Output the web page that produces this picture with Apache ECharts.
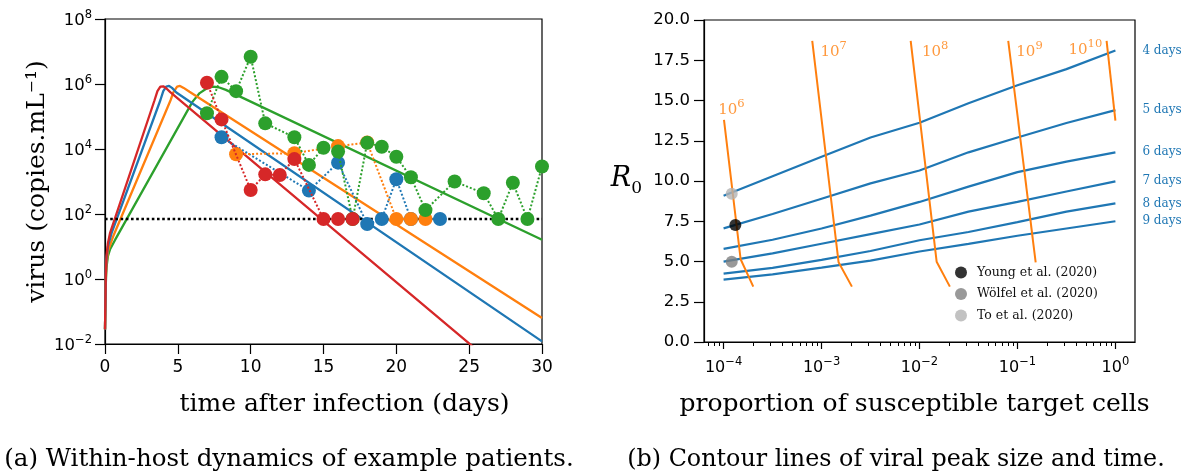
<!DOCTYPE html>
<html>
<head>
<meta charset="utf-8">
<script src="https://cdn.jsdelivr.net/npm/echarts@6/dist/echarts.min.js"></script>
<style>html,body{margin:0;padding:0;background:#fff}#c{width:1186px;height:475px}</style>
</head>
<body>
<div id="c"></div>
<script>
// ---------- Panel (a): within-host dynamics, values are log10(copies/mL) ----------
const xTicksA = [0, 5, 10, 15, 20, 25, 30];
const yTicksA = [-2, 0, 2, 4, 6, 8];
const detectionLimitLog10 = 1.845;

const fitBlue   = [[0,-1.55],[0.03,-0.6],[0.06,0.15],[0.1,0.6],[0.2,1.0],[0.45,1.41],[3.8,5.5],[4.0,5.78],[4.2,5.92],[4.4,5.94],[4.6,5.88],[4.9,5.74],[30,-1.92]];
const fitOrange = [[0,-1.55],[0.03,-0.65],[0.06,0.05],[0.1,0.45],[0.2,0.85],[0.55,1.3],[4.5,5.5],[4.7,5.75],[4.95,5.92],[5.15,5.94],[5.4,5.88],[5.8,5.76],[30,-1.2]];
const fitGreen  = [[0,-1.55],[0.03,-0.7],[0.06,-0.1],[0.1,0.35],[0.2,0.7],[0.35,0.92],[0.7,1.21],[6.0,5.45],[6.5,5.72],[7.0,5.87],[7.4,5.92],[7.8,5.9],[8.3,5.82],[30,1.21]];
const fitRed    = [[0,-1.55],[0.03,-0.6],[0.06,0.2],[0.1,0.7],[0.2,1.1],[0.35,1.42],[3.4,5.5],[3.6,5.78],[3.8,5.92],[4.0,5.93],[4.2,5.87],[4.5,5.74],[26,-2.36]];

const obsBlue   = [[8,4.36],[14,2.72],[16,3.58],[18,1.69],[19,1.845],[20,3.07],[21,1.845],[23,1.845]];
const obsOrange = [[9,3.84],[13,3.87],[16,4.09],[18,4.2],[20,1.845],[21,1.845],[22,1.845]];
const obsGreen  = [[7,5.1],[8,6.22],[9,5.78],[10,6.84],[11,4.79],[13,4.36],[14,3.51],[15,4.04],[16,3.92],[17,1.845],[18,4.19],[19,4.07],[20,3.76],[21,3.13],[22,2.12],[24,3.0],[26,2.64],[27,1.845],[28,2.96],[29,1.845],[30,3.46]];
const obsRed    = [[7,6.04],[8,4.91],[10,2.74],[11,3.22],[12,3.2],[13,3.69],[15,1.845],[16,1.845],[17,1.845]];

// ---------- Panel (b): contour lines, x = log10(proportion of target cells), y = R0 ----------
const xTicksB = [-4, -3, -2, -1, 0];
const yTicksB = [0, 2.5, 5, 7.5, 10, 12.5, 15, 17.5, 20];
const propLog10 = [-4, -3.5, -3, -2.5, -2, -1.5, -1, -0.5, 0];
const peakTimeNames = ['4 days', '5 days', '6 days', '7 days', '8 days', '9 days'];
const peakTime4 = [9.09, 10.3, 11.5, 12.7, 13.62, 14.83, 15.95, 16.95, 18.1];
const peakTime5 = [7.06, 7.95, 8.9, 9.85, 10.65, 11.78, 12.7, 13.6, 14.4];
const peakTime6 = [5.78, 6.35, 7.05, 7.85, 8.7, 9.65, 10.55, 11.2, 11.78];
const peakTime7 = [4.99, 5.5, 6.1, 6.7, 7.3, 8.1, 8.7, 9.35, 9.98];
const peakTime8 = [4.25, 4.6, 5.1, 5.65, 6.32, 6.83, 7.45, 8.1, 8.61];
const peakTime9 = [3.88, 4.2, 4.62, 5.05, 5.62, 6.1, 6.6, 7.05, 7.5];

const peakSize1e6  = [[-3.996,13.79],[-3.826,5.14],[-3.697,3.44]];
const peakSize1e7  = [[-3.095,18.7],[-2.826,4.95],[-2.69,3.44]];
const peakSize1e8  = [[-2.09,18.7],[-1.825,4.99],[-1.69,3.44]];
const peakSize1e9  = [[-1.094,18.7],[-0.814,4.95]];
const peakSize1e10 = [[-0.09,18.7],[0,13.75]];
const peakSizeLabels = [[-3.92,14.56,'6'],[-2.877,18.16,'7'],[-1.84,18.16,'8'],[-0.877,18.16,'9'],[-0.307,18.27,'10']];

const studyNames = ['Young et al. (2020)', 'Wölfel et al. (2020)', 'To et al. (2020)'];
const studyPoints = [[-3.88, 7.27], [-3.917, 4.98], [-3.917, 9.21]];
const studyColors = ['#000000', '#7f7f7f', '#b3b3b3'];

// minor tick positions on the log axis (2..9 x 10^n)
const xMinorB = [];
for (let n = -5; n <= 0; n++) for (let k = 2; k <= 9; k++) {
  const v = Math.log10(k) + n;
  if (v >= -4.2 && v <= 0.2) xMinorB.push(v);
}

const SANS = 'DejaVu Sans', SERIF = 'DejaVu Serif';
const C = {blue:'#1f77b4', orange:'#ff7f0e', green:'#2ca02c', red:'#d62728'};
const supText = v => String(v).replace('-', '\u2212');
const powLabel = v => '{b|10}{s|' + supText(Math.round(v)) + '}';
const tickRich = size => ({
  b: {fontFamily: SANS, fontSize: size, lineHeight: 20, verticalAlign: 'bottom', color: '#000'},
  s: {fontFamily: SANS, fontSize: 11.5, lineHeight: 12, verticalAlign: 'top', color: '#000'}
});
const axLine = {onZero: false, lineStyle: {color: '#000', width: 1.2}};

const fitSeries = (data, color) => ({
  type: 'line', xAxisIndex: 0, yAxisIndex: 0, data, showSymbol: false, symbol: 'none',
  lineStyle: {color, width: 2.3}, itemStyle: {color}, z: 2, silent: true
});
const obsSeries = (data, color, z) => ({
  type: 'line', xAxisIndex: 0, yAxisIndex: 0, data, symbol: 'circle', symbolSize: 14, showSymbol: true,
  lineStyle: {color, width: 2, type: 'dotted'}, itemStyle: {color}, z, silent: true
});
const r0Lines = [peakTime4, peakTime5, peakTime6, peakTime7, peakTime8, peakTime9];
const r0Series = r0Lines.map((vals, i) => ({
  type: 'line', xAxisIndex: 1, yAxisIndex: 1,
  data: propLog10.map((x, j) => [x, vals[j]]),
  showSymbol: false, symbol: 'none', lineStyle: {color: C.blue, width: 2.2}, itemStyle: {color: C.blue}, z: 2, silent: true,
  endLabel: {show: true, formatter: peakTimeNames[i], distance: 27, color: C.blue, fontFamily: SERIF, fontSize: 12}
}));
const sizeSeries = [peakSize1e6, peakSize1e7, peakSize1e8, peakSize1e9, peakSize1e10].map(d => ({
  type: 'line', xAxisIndex: 1, yAxisIndex: 1, data: d, showSymbol: false, symbol: 'none',
  lineStyle: {color: C.orange, width: 2}, itemStyle: {color: C.orange}, z: 3, silent: true
}));

const option = {
  animation: false,
  backgroundColor: '#fff',
  textStyle: {fontFamily: SANS},
  grid: [
    {left: 105, top: 19, width: 437, height: 325, show: true, borderColor: '#000', borderWidth: 1.2, backgroundColor: 'transparent'},
    {left: 704, top: 20, width: 431, height: 322, show: true, borderColor: '#000', borderWidth: 1.2, backgroundColor: 'transparent'}
  ],
  xAxis: [
    {gridIndex: 0, type: 'value', min: 0, max: 30, position: 'bottom',
     axisLine: axLine, axisTick: {customValues: xTicksA, length: 10, lineStyle: {color: '#000', width: 1.2}},
     axisLabel: {customValues: xTicksA, color: '#000', fontFamily: SANS, fontSize: 17, margin: 15},
     splitLine: {show: false},
     name: 'time after infection (days)', nameLocation: 'middle', nameGap: 48,
     nameTextStyle: {fontFamily: SERIF, fontSize: 25, color: '#000', padding: [0, 0, 0, 42]}},
    {gridIndex: 1, type: 'value', min: -4.2, max: 0.2, position: 'bottom',
     axisLine: axLine, axisTick: {customValues: xTicksB, length: 7, lineStyle: {color: '#000', width: 1.2}},
     axisLabel: {customValues: xTicksB, formatter: powLabel, rich: tickRich(16), margin: 14},
     splitLine: {show: false},
     name: 'proportion of susceptible target cells', nameLocation: 'middle', nameGap: 50,
     nameTextStyle: {fontFamily: SERIF, fontSize: 25, color: '#000', padding: [0, 10, 0, 0]}},
    {gridIndex: 1, type: 'value', min: -4.2, max: 0.2, position: 'bottom',
     axisLine: {show: false, onZero: false}, axisTick: {customValues: xMinorB, length: 4, lineStyle: {color: '#000', width: 1}},
     axisLabel: {show: false}, splitLine: {show: false}}
  ],
  yAxis: [
    {gridIndex: 0, type: 'value', min: -2, max: 8, position: 'left',
     axisLine: axLine, axisTick: {customValues: yTicksA, length: 10, lineStyle: {color: '#000', width: 1.2}},
     axisLabel: {customValues: yTicksA, formatter: powLabel, rich: tickRich(16.5), margin: 13},
     splitLine: {show: false},
     name: 'virus (copies.mL\u207B\u00B9)', nameLocation: 'middle', nameGap: 52,
     nameTextStyle: {fontFamily: SERIF, fontSize: 25, color: '#000'}},
    {gridIndex: 1, type: 'value', min: 0, max: 20, position: 'left',
     axisLine: axLine, axisTick: {customValues: yTicksB, length: 10, lineStyle: {color: '#000', width: 1.2}},
     axisLabel: {customValues: yTicksB, formatter: v => v.toFixed(1), color: '#000', fontFamily: SANS, fontSize: 16.5, margin: 14},
     splitLine: {show: false},
     name: '{r|R}{z|0}', nameLocation: 'middle', nameRotate: 0, nameGap: 62,
     nameTextStyle: {rich: {
       r: {fontFamily: SERIF, fontStyle: 'italic', fontSize: 27, lineHeight: 32, verticalAlign: 'top', color: '#000'},
       z: {fontFamily: SERIF, fontSize: 17, lineHeight: 18, verticalAlign: 'bottom', color: '#000'}
     }}}
  ],
  legend: {
    data: studyNames, orient: 'vertical', left: 955, top: 266, padding: 0,
    itemWidth: 22, itemHeight: 12, itemGap: 8.5, icon: 'circle', selectedMode: false,
    textStyle: {fontFamily: SERIF, fontSize: 12.5, lineHeight: 12, color: '#111'}
  },
  graphic: [
    {type: 'text', x: 289, y: 460, silent: true,
     style: {text: '(a) Within-host dynamics of example patients.', font: '24.5px "DejaVu Serif"', fill: '#000', align: 'center', verticalAlign: 'middle', textAlign: 'center', textVerticalAlign: 'middle'}},
    {type: 'text', x: 896, y: 460, silent: true,
     style: {text: '(b) Contour lines of viral peak size and time.', font: '23.8px "DejaVu Serif"', fill: '#000', align: 'center', verticalAlign: 'middle', textAlign: 'center', textVerticalAlign: 'middle'}}
  ],
  series: [
    fitSeries(fitGreen, C.green), fitSeries(fitOrange, C.orange), fitSeries(fitBlue, C.blue), fitSeries(fitRed, C.red),
    {type: 'line', xAxisIndex: 0, yAxisIndex: 0, data: [[0, detectionLimitLog10], [30, detectionLimitLog10]],
     showSymbol: false, symbol: 'none', lineStyle: {color: '#000', width: 2.6, type: 'dotted'}, z: 3, silent: true},
    obsSeries(obsBlue, C.blue, 4), obsSeries(obsOrange, C.orange, 5), obsSeries(obsGreen, C.green, 6), obsSeries(obsRed, C.red, 7),
    ...r0Series,
    ...sizeSeries,
    {type: 'scatter', xAxisIndex: 1, yAxisIndex: 1, data: peakSizeLabels, symbolSize: 1, itemStyle: {color: 'rgba(0,0,0,0)'}, z: 5, silent: true,
     label: {show: true, position: 'inside', formatter: p => '{b|10}{s|' + p.data[2] + '}',
       rich: {
         b: {fontFamily: SERIF, fontSize: 15, lineHeight: 20, verticalAlign: 'bottom', color: C.orange},
         s: {fontFamily: SERIF, fontSize: 11.5, lineHeight: 12, verticalAlign: 'top', color: C.orange}
       }}},
    ...studyNames.map((name, i) => ({
      type: 'scatter', name, xAxisIndex: 1, yAxisIndex: 1, data: [studyPoints[i]],
      symbol: 'circle', symbolSize: 12, itemStyle: {color: studyColors[i]}, z: 6, silent: true
    }))
  ]
};
const chart = echarts.init(document.getElementById('c'));
chart.setOption(option);
</script>
</body>
</html>
